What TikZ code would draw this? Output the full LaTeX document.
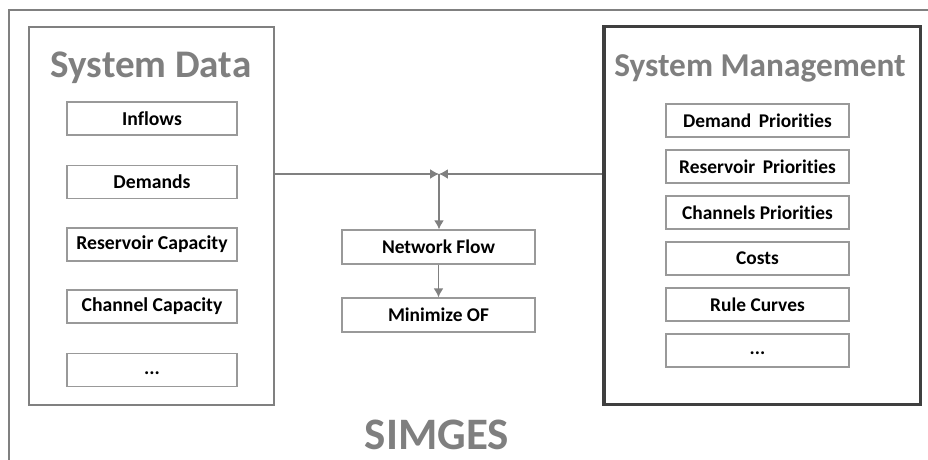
\documentclass[tikz,border=0pt]{standalone}
\usepackage{fontspec}
\setmainfont{Carlito}[Ligatures=NoCommon]
\usepackage{tikz}
\usetikzlibrary{arrows.meta, positioning, calc}

\definecolor{titlegray}{HTML}{7F7F7F}
\definecolor{boxgray}{HTML}{999999}
\definecolor{panelgray}{HTML}{808080}
\definecolor{paneldark}{HTML}{3F3F3F}

\begin{document}
\begin{tikzpicture}[x=0.025cm, y=-0.025cm,
    item/.style={draw=boxgray, line width=1pt, rectangle, minimum width=4.25cm, minimum height=0.825cm, font=\fontsize{14}{16}\selectfont\bfseries},
    mitem/.style={item, minimum width=4.575cm, font=\fontsize{13.8}{16}\selectfont\bfseries},
    citem/.style={item, minimum width=4.825cm, minimum height=0.85cm, font=\fontsize{13.8}{16}\selectfont\bfseries},
    dots/.style={text height=1.5ex, text depth=0.25ex},
    title/.style={text=titlegray, font=\fontsize{25}{28}\selectfont\bfseries},
    link/.style={draw=gray, line width=0.8pt, -{Latex[length=2.2mm, width=2.4mm]}}]
    \useasboundingbox (0,0) rectangle (928,460);

    % Outer frame (cut by the page)
    \draw[panelgray, line width=1.5pt] (940,10) -- (9,10) -- (9,480);

    % Panels
    \node[draw=panelgray, line width=2pt, rectangle, minimum width=6.125cm, minimum height=9.45cm] (sysdata) at (151.5,216) {};
    \node[draw=paneldark, line width=2.2pt, rectangle, minimum width=7.9cm, minimum height=9.425cm] (sysmgmt) at (762,215.5) {};

    % Titles
    \node[title, font=\fontsize{27.8}{30}\selectfont\bfseries] (datatitle) at (151,68) {System Data};
    \node[title, font=\fontsize{23.7}{26}\selectfont\bfseries] (mgmttitle) at (760,68) {System Management};
    \node[text=titlegray, font=\fontsize{32}{36}\selectfont\bfseries] (simges) at (437,435) {SIMGES};

    % System data items
    \node[item] (inflows) at (152,118.5) {Inflows};
    \node[item] (demands) at (152,182) {Demands};
    \node[item] (rescap) at (152,244.5) {Reservoir Capacity};
    \node[item] (chancap) at (152,306.5) {Channel Capacity};
    \node[item, dots] (datamore) at (152,370) {...};

    % System management items
    \node[mitem] (dempri) at (757.5,120.5) {Demand\, Priorities};
    \node[mitem] (respri) at (757.5,166.5) {Reservoir\, Priorities};
    \node[mitem] (chanpri) at (757.5,212.5) {Channels Priorities};
    \node[mitem] (costs) at (757.5,258.5) {Costs};
    \node[mitem] (rules) at (757.5,304.5) {Rule Curves};
    \node[mitem, dots] (mgmtmore) at (757.5,350.5) {...};

    % Core
    \node[citem] (netflow) at (438.5,247) {Network Flow};
    \node[citem] (minof) at (438.5,315) {Minimize OF};

    % Edges with arrows
    \coordinate (jn) at (439,174);
    \draw[link] (jn -| sysdata.east) -- (jn);
    \draw[link] (jn -| sysmgmt.west) -- (jn);
    \draw[link] (jn) -- (jn |- netflow.north);
    \draw[link] (netflow) -- (minof);
\end{tikzpicture}
\end{document}
